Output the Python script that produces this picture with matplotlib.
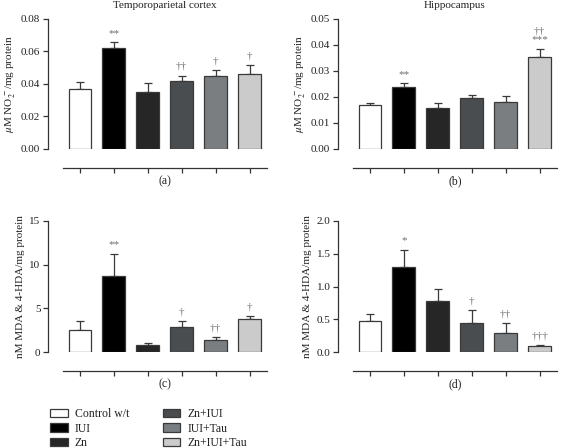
import matplotlib
matplotlib.use("Agg")
import matplotlib.pyplot as plt
import numpy as np

plt.rcParams['font.family'] = ['Liberation Serif', 'DejaVu Serif']
plt.rcParams['mathtext.fontset'] = 'stix'

groups = ["Control w/t", "IUI", "Zn", "Zn+IUI", "IUI+Tau", "Zn+IUI+Tau"]
colors = ["#ffffff", "#000000", "#262626", "#4a4d50", "#7b7e81", "#cbcbcb"]

# (a) Temporoparietal cortex NO2-
a_vals = [0.0368, 0.0620, 0.0352, 0.0421, 0.0450, 0.0460]
a_err = [0.0043, 0.0036, 0.0055, 0.0031, 0.0035, 0.0058]
a_sig = ["", "**", "", "††", "†", "†"]

# (b) Hippocampus NO2-
b_vals = [0.0169, 0.0237, 0.0156, 0.0196, 0.0180, 0.0355]
b_err = [0.0007, 0.0015, 0.0020, 0.0011, 0.0023, 0.0031]
b_sig = ["", "**", "", "", "", "††\n***"]

# (c) Temporoparietal cortex MDA & 4-HDA
c_vals = [2.52, 8.74, 0.76, 2.82, 1.34, 3.82]
c_err = [1.03, 2.48, 0.27, 0.69, 0.42, 0.26]
c_sig = ["", "**", "", "†", "††", "†"]

# (d) Hippocampus MDA & 4-HDA
d_vals = [0.468, 1.303, 0.774, 0.448, 0.285, 0.087]
d_err = [0.112, 0.259, 0.193, 0.198, 0.163, 0.013]
d_sig = ["", "*", "", "†", "††", "†††"]

W, H = 561, 448
fig = plt.figure(figsize=(W / 100, H / 100), dpi=100)

def px_axes(left, top, bottom, width=222):
    return fig.add_axes([left / W, (H - bottom) / H, width / W, (bottom - top) / H])

ylab_no = r"$\mu$M NO$_2^{\,-}$/mg protein"
ylab_mda = "nM MDA & 4-HDA/mg protein"

panels = [
    (48, 19, 149, a_vals, a_err, a_sig, (0, 0.08), np.arange(0, 0.081, 0.02), "{:.2f}", ylab_no, "Temporoparietal cortex", "(a)"),
    (338, 19, 149, b_vals, b_err, b_sig, (0, 0.05), np.arange(0, 0.051, 0.01), "{:.2f}", ylab_no, "Hippocampus", "(b)"),
    (48, 221, 352, c_vals, c_err, c_sig, (0, 15), [0, 5, 10, 15], "{:.0f}", ylab_mda, None, "(c)"),
    (338, 221, 352, d_vals, d_err, d_sig, (0, 2.0), np.arange(0, 2.01, 0.5), "{:.1f}", ylab_mda, None, "(d)"),
]

x = np.arange(len(groups))
bars_for_legend = None
for left, top, bottom, vals, err, sig, ylim, yt, fmt, ylab, title, plab in panels:
    ax = px_axes(left, top, bottom)
    bars = ax.bar(x, vals, width=0.67, color=colors, edgecolor="#3a3a3a", linewidth=0.9, zorder=3)
    ax.errorbar(x, vals, yerr=[np.zeros(len(vals)), err], fmt="none", ecolor="#3a3a3a",
                elinewidth=0.9, capsize=3, capthick=0.9, zorder=2)
    if bars_for_legend is None:
        bars_for_legend = bars
    span = ylim[1] - ylim[0]
    for xi, v, e, s in zip(x, vals, err, sig):
        if s:
            ax.text(xi, v + e + 0.035 * span, s, ha="center", va="bottom", fontsize=8,
                    color="#707070", linespacing=1.0)
    ax.set_xlim(-0.94, 5.6)
    ax.set_ylim(*ylim)
    ax.set_yticks(yt)
    ax.set_yticklabels([fmt.format(t) for t in yt], fontsize=8)
    ax.set_xticks(x)
    ax.set_xticklabels([""] * len(x))
    for s in ["top", "right"]:
        ax.spines[s].set_visible(False)
    ax.spines["left"].set_color("#333333")
    ax.spines["left"].set_linewidth(0.9)
    ax.spines["bottom"].set_position(("outward", 14))
    ax.spines["bottom"].set_bounds(-0.5, 5.5)
    ax.spines["bottom"].set_color("#333333")
    ax.spines["bottom"].set_linewidth(0.9)
    ax.tick_params(axis="both", colors="#333333", length=3.5, width=0.9)
    ax.tick_params(axis="y", labelcolor="#222222", pad=2)
    ax.set_ylabel(ylab, fontsize=8, labelpad=3, color="#222222")
    if title:
        ax.text(2.5, ylim[1] + 0.105 * span, title, ha="center", va="center", fontsize=8, color="#222222")
    ax.text(2.5, -0.20, plab, transform=ax.get_xaxis_transform(), ha="center", va="top",
            fontsize=8.5, color="#222222")

leg = fig.legend(bars_for_legend, groups, ncol=2, frameon=False, loc="upper left",
                 bbox_to_anchor=(44 / W, (H - 402) / H), fontsize=8.5,
                 handlelength=1.5, handleheight=0.7, handletextpad=0.6,
                 columnspacing=2.85, labelspacing=0.22, borderpad=0)
for t in leg.get_texts():
    t.set_color("#222222")

fig.savefig("out.png", dpi=100)
